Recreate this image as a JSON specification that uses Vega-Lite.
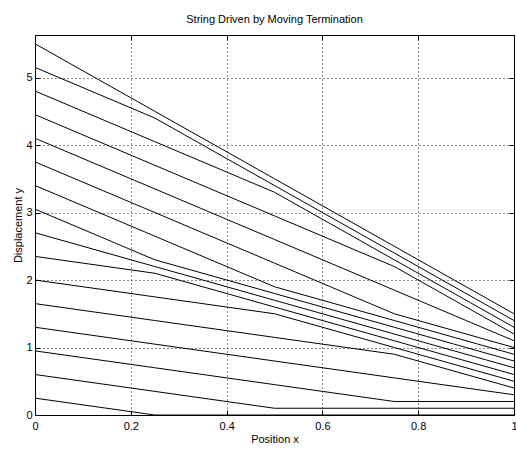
{
  "$schema": "https://vega.github.io/schema/vega-lite/v6.json",
  "width": 479,
  "height": 380,
  "autosize": {"type": "none"},
  "padding": {"left": 35, "top": 35, "right": 2, "bottom": 34},
  "background": "white",
  "config": {
    "font": "Liberation Sans",
    "view": {"stroke": "black", "strokeWidth": 1},
    "axis": {
      "domain": false,
      "tickColor": "black",
      "tickSize": -5,
      "labelFont": "Liberation Sans",
      "labelFontSize": 11,
      "labelColor": "black",
      "titleFont": "Liberation Sans",
      "titleFontSize": 11,
      "titleFontWeight": "normal",
      "titleColor": "black"
    }
  },
  "title": {
    "text": "String Driven by Moving Termination",
    "font": "Liberation Sans",
    "fontSize": 11,
    "fontWeight": "normal",
    "color": "black",
    "offset": 10
  },
  "data": {
    "values": [
      {"k":1,"x":0,"y":0.25},{"k":1,"x":0.25,"y":0},{"k":1,"x":0.5,"y":0},{"k":1,"x":0.75,"y":0},{"k":1,"x":1,"y":0},
      {"k":2,"x":0,"y":0.6},{"k":2,"x":0.25,"y":0.35},{"k":2,"x":0.5,"y":0.1},{"k":2,"x":0.75,"y":0.1},{"k":2,"x":1,"y":0.1},
      {"k":3,"x":0,"y":0.95},{"k":3,"x":0.25,"y":0.7},{"k":3,"x":0.5,"y":0.45},{"k":3,"x":0.75,"y":0.2},{"k":3,"x":1,"y":0.2},
      {"k":4,"x":0,"y":1.3},{"k":4,"x":0.25,"y":1.05},{"k":4,"x":0.5,"y":0.8},{"k":4,"x":0.75,"y":0.55},{"k":4,"x":1,"y":0.3},
      {"k":5,"x":0,"y":1.65},{"k":5,"x":0.25,"y":1.4},{"k":5,"x":0.5,"y":1.15},{"k":5,"x":0.75,"y":0.9},{"k":5,"x":1,"y":0.4},
      {"k":6,"x":0,"y":2.0},{"k":6,"x":0.25,"y":1.75},{"k":6,"x":0.5,"y":1.5},{"k":6,"x":0.75,"y":1.0},{"k":6,"x":1,"y":0.5},
      {"k":7,"x":0,"y":2.35},{"k":7,"x":0.25,"y":2.1},{"k":7,"x":0.5,"y":1.6},{"k":7,"x":0.75,"y":1.1},{"k":7,"x":1,"y":0.6},
      {"k":8,"x":0,"y":2.7},{"k":8,"x":0.25,"y":2.2},{"k":8,"x":0.5,"y":1.7},{"k":8,"x":0.75,"y":1.2},{"k":8,"x":1,"y":0.7},
      {"k":9,"x":0,"y":3.05},{"k":9,"x":0.25,"y":2.3},{"k":9,"x":0.5,"y":1.8},{"k":9,"x":0.75,"y":1.3},{"k":9,"x":1,"y":0.8},
      {"k":10,"x":0,"y":3.4},{"k":10,"x":0.25,"y":2.65},{"k":10,"x":0.5,"y":1.9},{"k":10,"x":0.75,"y":1.4},{"k":10,"x":1,"y":0.9},
      {"k":11,"x":0,"y":3.75},{"k":11,"x":0.25,"y":3.0},{"k":11,"x":0.5,"y":2.25},{"k":11,"x":0.75,"y":1.5},{"k":11,"x":1,"y":1.0},
      {"k":12,"x":0,"y":4.1},{"k":12,"x":0.25,"y":3.35},{"k":12,"x":0.5,"y":2.6},{"k":12,"x":0.75,"y":1.85},{"k":12,"x":1,"y":1.1},
      {"k":13,"x":0,"y":4.45},{"k":13,"x":0.25,"y":3.7},{"k":13,"x":0.5,"y":2.95},{"k":13,"x":0.75,"y":2.2},{"k":13,"x":1,"y":1.2},
      {"k":14,"x":0,"y":4.8},{"k":14,"x":0.25,"y":4.05},{"k":14,"x":0.5,"y":3.3},{"k":14,"x":0.75,"y":2.3},{"k":14,"x":1,"y":1.3},
      {"k":15,"x":0,"y":5.15},{"k":15,"x":0.25,"y":4.4},{"k":15,"x":0.5,"y":3.4},{"k":15,"x":0.75,"y":2.4},{"k":15,"x":1,"y":1.4},
      {"k":16,"x":0,"y":5.5},{"k":16,"x":0.25,"y":4.5},{"k":16,"x":0.5,"y":3.5},{"k":16,"x":0.75,"y":2.5},{"k":16,"x":1,"y":1.5}
    ]
  },
  "layer": [
    {
      "mark": {"type": "line", "color": "black", "strokeWidth": 1, "clip": true},
      "encoding": {
        "x": {
          "field": "x",
          "type": "quantitative",
          "scale": {"domain": [0, 1], "nice": false, "zero": false},
          "axis": {"values": [0, 0.2, 0.4, 0.6, 0.8, 1], "format": "~g", "title": "Position x", "labelPadding": 10, "titlePadding": 2, "labelFlush": false,
                   "grid": true, "gridColor": "black", "gridDash": [1, 3], "gridWidth": 1, "gridOpacity": 0.9}
        },
        "y": {
          "field": "y",
          "type": "quantitative",
          "scale": {"domain": [0, 5.63], "nice": false, "zero": false},
          "axis": {"values": [0, 1, 2, 3, 4, 5], "format": "~g", "title": "Displacement y", "labelPadding": 8, "titlePadding": 2,
                   "grid": true, "gridColor": "black", "gridDash": [1, 3], "gridWidth": 1, "gridOpacity": 0.9}
        },
        "detail": {"field": "k", "type": "nominal"},
        "order": {"field": "x", "type": "quantitative"}
      }
    },
    {
      "mark": {"type": "line", "strokeOpacity": 0, "clip": true},
      "encoding": {
        "x": {
          "field": "x",
          "type": "quantitative",
          "scale": {"domain": [0, 1], "nice": false, "zero": false},
          "axis": {"orient": "top", "values": [0, 0.2, 0.4, 0.6, 0.8, 1], "labels": false, "title": null, "grid": false}
        },
        "y": {
          "field": "y",
          "type": "quantitative",
          "scale": {"domain": [0, 5.63], "nice": false, "zero": false},
          "axis": {"orient": "right", "values": [0, 1, 2, 3, 4, 5], "labels": false, "title": null, "grid": false}
        },
        "detail": {"field": "k", "type": "nominal"},
        "order": {"field": "x", "type": "quantitative"}
      }
    }
  ],
  "resolve": {"axis": {"x": "independent", "y": "independent"}}
}
